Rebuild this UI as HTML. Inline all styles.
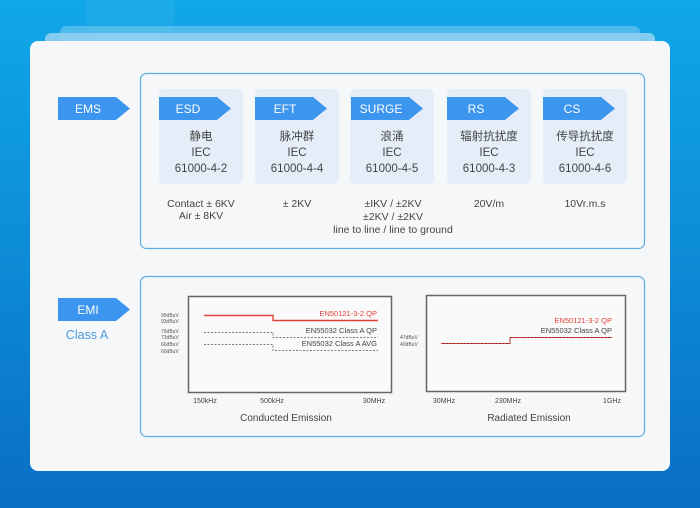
<!DOCTYPE html>
<html><head><meta charset="utf-8"><style>
html,body{margin:0;padding:0;width:700px;height:508px;overflow:hidden}
svg{display:block}
text{font-family:"Liberation Sans","Noto Sans CJK SC",sans-serif}
</style></head><body>
<svg width="700" height="508" viewBox="0 0 700 508" xmlns="http://www.w3.org/2000/svg">
<defs>
<linearGradient id="bg" x1="0" y1="0" x2="0" y2="1">
<stop offset="0" stop-color="#10a8e8"/><stop offset="1" stop-color="#0a6ec6"/></linearGradient>
<g id="tag"><polygon points="0,0 58,0 72,11.5 58,23 0,23" fill="#3c95ee"/></g>
</defs>
<rect width="700" height="508" fill="url(#bg)"/>
<circle cx="130" cy="10" r="45" fill="#ffffff" opacity="0.05"/>
<rect x="60" y="26" width="580" height="30" rx="6" fill="#5cc0ee" opacity="0.8"/>
<rect x="45" y="33" width="610" height="30" rx="6" fill="#8fd0f2" opacity="0.9"/>
<rect x="30" y="41" width="640" height="430" rx="8" fill="#f6f7f9"/>

<rect x="140.5" y="73.5" width="504" height="175" rx="6" fill="none" stroke="#5aaee0" stroke-width="1.2"/>
<use href="#tag" x="58" y="97"/>
<text x="88" y="113" font-size="12" fill="#fff" text-anchor="middle">EMS</text>

<g font-size="11.5" fill="#444" text-anchor="middle">
<rect x="159" y="89" width="84" height="95" rx="5" fill="#e5eef8"/>
<use href="#tag" x="159" y="97"/><text x="188" y="113" fill="#fff" font-size="12">ESD</text>
<text x="201" y="140">静电</text><text x="201" y="156">IEC</text><text x="201" y="172">61000-4-2</text>
<text x="201" y="207" font-size="10.5">Contact ± 6KV</text><text x="201" y="219" font-size="10.5">Air ± 8KV</text>

<rect x="255" y="89" width="84" height="95" rx="5" fill="#e5eef8"/>
<use href="#tag" x="255" y="97"/><text x="285" y="113" fill="#fff" font-size="12">EFT</text>
<text x="297" y="140">脉冲群</text><text x="297" y="156">IEC</text><text x="297" y="172">61000-4-4</text>
<text x="297" y="207" font-size="10.5">± 2KV</text>

<rect x="350" y="89" width="84" height="95" rx="5" fill="#e5eef8"/>
<use href="#tag" x="351" y="97"/><text x="381" y="113" fill="#fff" font-size="12">SURGE</text>
<text x="392" y="140">浪涌</text><text x="392" y="156">IEC</text><text x="392" y="172">61000-4-5</text>
<text x="393" y="207" font-size="10.5">±IKV / ±2KV</text><text x="393" y="220" font-size="10.5">±2KV / ±2KV</text>
<text x="393" y="233" font-size="10.5">line to line / line to ground</text>

<rect x="447" y="89" width="84" height="95" rx="5" fill="#e5eef8"/>
<use href="#tag" x="447" y="97"/><text x="476" y="113" fill="#fff" font-size="12">RS</text>
<text x="489" y="140">辐射抗扰度</text><text x="489" y="156">IEC</text><text x="489" y="172">61000-4-3</text>
<text x="489" y="207" font-size="10.5">20V/m</text>

<rect x="543" y="89" width="84" height="95" rx="5" fill="#e5eef8"/>
<use href="#tag" x="543" y="97"/><text x="572" y="113" fill="#fff" font-size="12">CS</text>
<text x="585" y="140">传导抗扰度</text><text x="585" y="156">IEC</text><text x="585" y="172">61000-4-6</text>
<text x="585" y="207" font-size="10.5">10Vr.m.s</text>
</g>

<rect x="140.5" y="276.5" width="504" height="160" rx="6" fill="none" stroke="#5aaee0" stroke-width="1.2"/>
<use href="#tag" x="58" y="298"/>
<text x="88" y="314" font-size="12" fill="#fff" text-anchor="middle">EMI</text>
<text x="87" y="339" font-size="12.5" fill="#4a98e0" text-anchor="middle">Class A</text>

<rect x="188.5" y="296.5" width="203" height="96" fill="#fafafa" stroke="#666" stroke-width="1.5"/>
<g font-size="5" fill="#555">
<text x="161" y="317">99dBuV</text><text x="161" y="323">93dBuV</text>
<text x="161" y="333">79dBuV</text><text x="161" y="339">73dBuV</text>
<text x="161" y="346">66dBuV</text><text x="161" y="353">60dBuV</text>
</g>
<polyline points="204,315.5 273,315.5 273,320.5 378,320.5" fill="none" stroke="#e0403a" stroke-width="1.4"/>
<polyline points="204,332.5 273,332.5 273,337.5 378,337.5" fill="none" stroke="#555" stroke-width="0.8" stroke-dasharray="2,1.5"/>
<polyline points="204,344.5 273,344.5 273,350.5 378,350.5" fill="none" stroke="#555" stroke-width="0.8" stroke-dasharray="2,1.5"/>
<g font-size="7.5" text-anchor="end">
<text x="377" y="316" fill="#e0403a">EN50121-3-2 QP</text>
<text x="377" y="333" fill="#444">EN55032 Class A QP</text>
<text x="377" y="346" fill="#444">EN55032 Class A AVG</text>
</g>
<g font-size="7" fill="#444" text-anchor="middle">
<text x="205" y="403">150kHz</text><text x="272" y="403">500kHz</text><text x="374" y="403">30MHz</text>
</g>
<text x="286" y="421" font-size="10" fill="#444" text-anchor="middle">Conducted  Emission</text>

<rect x="426.5" y="295.5" width="199" height="96" fill="#fafafa" stroke="#666" stroke-width="1.5"/>
<g font-size="5" fill="#555">
<text x="400" y="339">47dBuV</text><text x="400" y="346">40dBuV</text>
</g>
<polyline points="441,343.5 510,343.5 510,337.5 612,337.5" fill="none" stroke="#7a2020" stroke-width="1"/>
<polyline points="441,343.5 510,343.5 510,337.5 612,337.5" fill="none" stroke="#e0403a" stroke-width="1" stroke-dasharray="2,1.5"/>
<g font-size="7.5" text-anchor="end">
<text x="612" y="323" fill="#e0403a">EN50121-3-2 QP</text>
<text x="612" y="333" fill="#444">EN55032 Class A QP</text>
</g>
<g font-size="7" fill="#444" text-anchor="middle">
<text x="444" y="403">30MHz</text><text x="508" y="403">230MHz</text><text x="612" y="403">1GHz</text>
</g>
<text x="529" y="421" font-size="10" fill="#444" text-anchor="middle">Radiated   Emission</text>
</svg>
</body></html>
